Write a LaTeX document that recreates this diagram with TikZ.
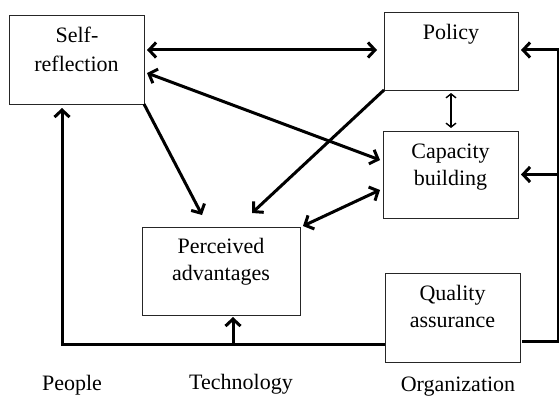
\documentclass[tikz,border=0pt]{standalone}
\usepackage{fontspec}
\setmainfont{Liberation Serif}
\usetikzlibrary{arrows.meta}
\begin{document}
\begin{tikzpicture}[x=1pt,y=-1pt,
  box/.style={draw=black!85, line width=1pt, rectangle, inner sep=0pt, outer sep=0pt},
  lbl/.style={anchor=base, inner sep=0pt, font=\fontsize{22}{27}\selectfont},
  barb/.tip={Straight Barb[length=7pt,width=15pt]},
  smallbarb/.tip={Straight Barb[length=4pt,width=10pt]},
  flow/.style={line width=3pt, -barb},
  twoway/.style={line width=3pt, barb-barb},
  slim/.style={line width=1.4pt, smallbarb-smallbarb},
]
\useasboundingbox (0,0) rectangle (559,396);

% boxes
\node[box, minimum width=135pt, minimum height=88pt] (self) at (76.5,60) {};
\node[box, minimum width=134pt, minimum height=77pt] (pol) at (451,51.5) {};
\node[box, minimum width=135pt, minimum height=87pt] (cap) at (450.5,174.5) {};
\node[box, minimum width=158pt, minimum height=88pt] (adv) at (221,271) {};
\node[box, minimum width=135pt, minimum height=89pt] (qa) at (452.5,317.5) {};

% box texts
\node[lbl] (self1) at (77,43) {Self-};
\node[lbl] (self2) at (76.5,71) {reflection};
\node[lbl] (pol1) at (451,40) {Policy};
\node[lbl] (cap1) at (450.5,158) {Capacity};
\node[lbl] (cap2) at (450.5,185) {building};
\node[lbl] (adv1) at (221,253) {Perceived};
\node[lbl] (adv2) at (221,280) {advantages};
\node[lbl] (qa1) at (452.5,300) {Quality};
\node[lbl] (qa2) at (452.5,327) {assurance};

% column captions
\node[lbl] (people) at (72,390) {People};
\node[lbl] (tech) at (241,389) {Technology};
\node[lbl] (org) at (458,391) {Organization};

% links between the boxes
\draw[twoway] ([xshift=3pt,yshift=10pt]self.east) -- ([xshift=-7pt,yshift=1.5pt]pol.west);
\draw[twoway] ([xshift=3pt,yshift=-13pt]self.east) -- ([xshift=-3pt,yshift=14.5pt]cap.west);
\draw[flow] (self.south east) -- ([xshift=-19pt,yshift=12pt]adv.north);
\draw[flow] (pol.south west) -- ([xshift=31pt,yshift=14pt]adv.north);
\draw[twoway] ([xshift=-3pt,yshift=-15.5pt]cap.west) -- ([xshift=3pt,yshift=1pt]adv.north east);
\draw[slim] ([yshift=-3pt]pol.south) -- ([yshift=3pt]pol.south |- cap.north);

% feedback from quality assurance on the right
\coordinate (railtop) at (558,50);
\draw[flow] ([xshift=2pt,yshift=-24pt]qa.east) -| (railtop) -- ([xshift=3pt,yshift=1.5pt]pol.east);
\draw[flow] (railtop |- cap.east) -- ([xshift=3pt]cap.east);

% feedback from quality assurance along the bottom
\coordinate (corner) at (62,344);
\coordinate (tjoin) at (233,344);
\draw[flow, shorten >=4pt] ([yshift=-26.5pt]qa.west) -- (corner) -- (corner |- self.south);
\draw[flow, shorten >=2pt] (tjoin) -- (tjoin |- adv.south);
\end{tikzpicture}
\end{document}
